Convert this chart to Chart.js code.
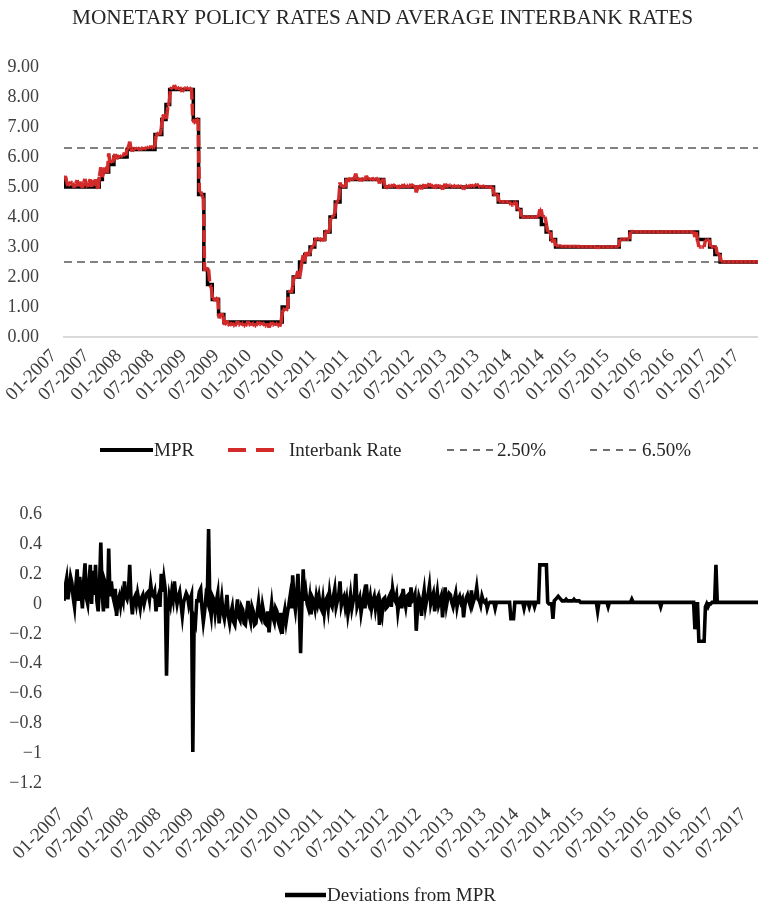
<!DOCTYPE html>
<html><head><meta charset="utf-8">
<script src="https://cdn.jsdelivr.net/npm/chart.js@4.4.0/dist/chart.umd.min.js"></script>
<style>
html,body{margin:0;padding:0;background:#fff;width:758px;height:905px;overflow:hidden;}
#c1{position:absolute;left:0;top:0;}
#c2{position:absolute;left:0;top:500px;}
#title{position:absolute;left:0;top:6px;width:765px;text-align:center;font-family:"Liberation Serif","Times New Roman",serif;font-size:21.3px;line-height:22px;color:#262626;white-space:nowrap;}
</style></head><body>
<canvas id="c1" width="758" height="500"></canvas>
<canvas id="c2" width="758" height="405"></canvas>
<div id="title">MONETARY POLICY RATES AND AVERAGE INTERBANK RATES</div>
<script>
// ---- data (time in months since Jan 2007) ----
const tickLabels = ['01-2007','07-2007','01-2008','07-2008','01-2009','07-2009','01-2010','07-2010',
  '01-2011','07-2011','01-2012','07-2012','01-2013','07-2013','01-2014','07-2014','01-2015','07-2015',
  '01-2016','07-2016','01-2017','07-2017'];
const monthMax = 132;
// the picture's date labels sit on their own evenly spaced slots (a little wider than 6 months)
const labelSlotMax = 21.35;

// Monetary policy rate: month of change and new level
const mprChangeMonths = [0,0.3,6.7,7.3,8.5,9.5,12.0,17.3,18.6,19.4,20.1,24.6,25.6,26.6,27.3,28.2,29.4,30.4,
  41.5,42.6,43.6,44.8,45.8,46.8,47.7,49.6,50.6,51.6,52.5,53.6,60.8,81.7,82.6,86.2,86.9,90.8,91.7,92.6,93.5,
  105.6,107.6,120.5,122.8,123.8,124.8];
const mprValues = [5.25,5.0,5.25,5.5,5.75,6.0,6.25,6.75,7.25,7.75,8.25,7.25,4.75,2.25,1.75,1.25,0.75,0.5,
  1.0,1.5,2.0,2.5,2.75,3.0,3.25,3.5,4.0,4.5,5.0,5.25,5.0,4.75,4.5,4.25,4.0,3.75,3.5,3.25,3.0,
  3.25,3.5,3.25,3.0,2.75,2.5];

// Interbank rate minus MPR, read at the start and middle of each half month
const deviationsHalfMonth = [   // month = k/2
  0.02,0.17,0.10,0.14,-0.02,0.23,0.18,-0.03,0.27,0.00,
  0.26,0.22,0.26,-0.05,0.41,-0.05,0.12,0.37,0.15,0.02,
  -0.08,0.05,0.06,0.15,0.03,0.26,-0.07,0.05,0.07,-0.03,
  0.06,0.04,0.08,0.13,0.05,-0.05,0.06,0.20,0.17,-0.48,
  0.05,0.08,0.15,0.00,0.08,-0.08,0.04,0.05,0.03,-0.99,
  -0.13,0.02,0.10,-0.12,0.05,0.50,-0.08,0.03,0.02,-0.13,
  0.04,-0.10,0.06,-0.13,-0.02,-0.14,0.03,-0.11,-0.04,-0.14,
  0.02,-0.12,-0.05,-0.13,0.01,-0.10,-0.06,-0.14,-0.19,0.00,
  -0.12,-0.05,-0.15,-0.20,-0.04,-0.06,0.05,0.19,-0.04,0.20,
  -0.33,0.23,0.08,-0.03,-0.07,0.02,0.05,0.05,-0.04,-0.06,
  0.04,0.07,-0.02,0.10,0.02,0.15,0.03,-0.02,-0.07,0.06,
  0.02,0.20,0.01,-0.06,0.05,0.13,0.00,-0.03,0.05,0.03,
  -0.14,-0.07,0.04,-0.02,0.06,0.10,0.02,-0.05,0.04,0.10,
  -0.02,0.06,0.11,0.03,-0.18,0.05,-0.08,0.09,0.03,0.12,
  0.04,-0.05,0.08,0.02,-0.09,0.11,0.04,0.06,-0.02,0.07,
  0.03,0.01,-0.09,0.04,0.02,0.09,0.03,0.11,0.02,0.05,
  0.01,-0.03,0.01,0.01,-0.03,0.01,0.01,0.01,0.01,0.01,
  -0.10,-0.10,0.01,0.01,0.01,-0.03,0.01,-0.02,0.01,-0.02,
  0.01,0.26,0.26,0.26,0.01,0.00,-0.10,0.03,0.05,0.03,
  0.02,0.03,0.02,0.02,0.03,0.02,0.02,0.01,0.01,0.01,
  0.01,0.01,0.01,-0.05,0.01,0.01,0.01,-0.02,0.01,0.01,
  0.01,0.01,0.01,0.01,0.01,0.01,0.03,0.01,0.01,0.01,
  0.01,0.01,0.01,0.01,0.01,0.01,0.01,-0.02,0.01,0.01,
  0.01,0.01,0.01,0.01,0.01,0.01,0.01,0.01,0.01,0.01,
  -0.17,0.00,-0.25,-0.25,-0.02,-0.02,0.00,0.01,0.26,0.01,
  0.01,0.01,0.01,0.01,0.01,0.01,0.01,0.01,0.01,0.01,
  0.01,0.01,0.01,0.01,0.01
];
const deviationsQuarterMonth = [   // month = k/2 + 0.25
  0.12,0.03,0.18,0.04,0.12,0.02,0.07,0.15,0.04,0.14,
  0.00,0.06,0.02,0.12,0.08,0.15,-0.03,0.05,0.06,0.10,
  0.02,-0.01,0.02,0.05,0.08,0.03,0.03,0.00,0.02,0.04,
  0.00,0.07,0.03,0.06,0.08,0.03,-0.02,0.08,0.10,-0.05,
  0.00,0.03,0.06,0.05,0.00,0.01,0.07,-0.01,0.06,-0.10,
  0.02,0.08,-0.03,-0.05,0.02,-0.02,0.05,-0.06,0.07,-0.03,
  -0.06,-0.03,-0.08,-0.06,-0.12,-0.05,-0.09,-0.02,-0.13,-0.06,
  -0.08,-0.02,-0.14,-0.06,-0.08,-0.01,-0.13,-0.05,-0.08,-0.09,
  -0.03,-0.12,-0.06,-0.09,-0.12,-0.01,-0.03,0.02,0.06,-0.02,
  0.00,0.02,0.00,0.04,0.04,-0.03,0.00,-0.02,0.03,0.02,
  -0.03,0.00,0.05,-0.02,0.06,-0.01,0.05,0.03,-0.01,-0.03,
  0.06,-0.02,0.04,0.00,-0.03,0.03,0.05,0.02,-0.03,0.05,
  -0.02,0.03,-0.03,0.04,-0.02,0.04,0.06,0.02,-0.03,0.03,
  0.05,-0.02,0.02,0.06,-0.03,0.02,0.03,-0.02,0.06,0.00,
  0.07,0.02,-0.01,0.05,0.02,-0.01,0.07,0.01,0.03,-0.02,
  0.05,0.03,-0.01,0.06,-0.01,0.00,0.05,0.03,-0.01,0.02,
  0.02,0.00,0.01,0.01,0.01,0.01,0.01,0.01,0.01,0.01,
  -0.10,0.01,0.01,0.01,0.01,0.01,0.01,0.01,0.01,0.01,
  0.01,0.26,0.26,0.26,0.00,0.00,0.02,0.04,0.04,0.02,
  0.02,0.02,0.02,0.02,0.02,0.02,0.01,0.01,0.01,0.01,
  0.01,0.01,0.01,0.01,0.01,0.01,0.01,0.01,0.01,0.01,
  0.01,0.01,0.01,0.01,0.01,0.01,0.01,0.01,0.01,0.01,
  0.01,0.01,0.01,0.01,0.01,0.01,0.01,0.01,0.01,0.01,
  0.01,0.01,0.01,0.01,0.01,0.01,0.01,0.01,0.01,0.01,
  0.00,-0.25,-0.25,-0.25,0.00,0.00,0.01,0.01,0.01,0.01,
  0.01,0.01,0.01,0.01,0.01,0.01,0.01,0.01,0.01,0.01,
  0.01,0.01,0.01,0.01
];
const corridorLow = 2.5;
const corridorHigh = 6.3;

// ---- tables built from the arrays ----
const devSamples = deviationsHalfMonth.map((d, k) => ({m: k / 2, d}))
  .concat(deviationsQuarterMonth.map((d, k) => ({m: k / 2 + 0.25, d})))
  .sort((a, b) => a.m - b.m);
function mprAt(m){ let v = mprValues[0]; for (let k = 0; k < mprChangeMonths.length; k++){ if (mprChangeMonths[k] <= m) v = mprValues[k]; } return v; }
const mprPoints = mprChangeMonths.map((m, k) => ({x: m, y: mprValues[k]})).concat([{x: monthMax, y: mprValues[mprValues.length - 1]}]);
const interbankPoints = devSamples.map(s => ({x: s.m, y: +(mprAt(s.m) + s.d).toFixed(2)}));
const devPoints = devSamples.map(s => ({x: s.m, y: s.d}));

const FONT = '"Liberation Serif","Times New Roman",serif';
Chart.defaults.font.family = FONT;
Chart.defaults.color = '#404040';

// legend drawn at fixed places, one sample line + dataset label per item
const placedLegend = {
  id: 'placedLegend',
  afterDraw(chart, args, opts) {
    const ctx = chart.ctx;
    ctx.save();
    ctx.font = opts.size + 'px ' + FONT;
    ctx.textBaseline = 'middle';
    ctx.fillStyle = opts.textColor;
    opts.items.forEach(it => {
      const ds = chart.data.datasets[it.dataset];
      ctx.beginPath();
      ctx.setLineDash(it.dash);
      ctx.lineWidth = it.width;
      ctx.strokeStyle = it.color || ds.borderColor;
      ctx.moveTo(it.x0, opts.y);
      ctx.lineTo(it.x1, opts.y);
      ctx.stroke();
      ctx.setLineDash([]);
      ctx.fillText(ds.label, it.tx, opts.y + 1);
    });
    ctx.restore();
  }
};

function xScales(height, pad, shift, showBorder){
  return {
    x: {type: 'linear', min: 0, max: monthMax, display: false},
    xLabels: {
      type: 'linear', axis: 'x', position: 'bottom', min: 0, max: labelSlotMax,
      afterBuildTicks: s => { s.ticks = tickLabels.map((_, i) => ({value: i})); },
      afterFit: s => { s.height = height; s.paddingLeft = 0; s.paddingRight = 0; },
      ticks: {autoSkip: false, minRotation: 45, maxRotation: 45, padding: pad, labelOffset: shift, font: {size: 19},
        callback: (v, i) => tickLabels[i]},
      grid: {display: false, drawTicks: false},
      border: {display: showBorder, color: '#d9d9d9', width: 2}
    }
  };
}

new Chart(document.getElementById('c1'), {
  type: 'line',
  data: {datasets: [
    {label: 'MPR', data: mprPoints, borderColor: '#000', borderWidth: 3.5, stepped: true, pointRadius: 0, order: 1},
    {label: 'Interbank Rate', data: interbankPoints, borderColor: '#d32a2a', borderWidth: 3.5, borderDash: [12, 4],
      pointRadius: 0, order: 0, segment: {borderDashOffset: c => (c.p0DataIndex % 2) * 0.01}},
    {label: '2.50%', data: [{x: 0, y: corridorLow}, {x: monthMax, y: corridorLow}], borderColor: '#595959',
      borderWidth: 1.5, borderDash: [8, 5], pointRadius: 0, order: 2},
    {label: '6.50%', data: [{x: 0, y: corridorHigh}, {x: monthMax, y: corridorHigh}], borderColor: '#595959',
      borderWidth: 1.5, borderDash: [8, 5], pointRadius: 0, order: 2}
  ]},
  plugins: [placedLegend],
  options: {
    responsive: false, animation: false, events: [],
    layout: {padding: {left: 0, top: 67, right: 0, bottom: 63}},
    plugins: {
      tooltip: {enabled: false},
      legend: {display: false},
      placedLegend: {y: 450, size: 19, textColor: '#262626', items: [
        {dataset: 0, x0: 100, x1: 153, tx: 154, width: 4, dash: []},
        {dataset: 1, x0: 228, x1: 274, tx: 289, width: 4, dash: [18, 10]},
        {dataset: 2, x0: 447, x1: 494, tx: 497, width: 1.5, dash: [7, 6], color: '#404040'},
        {dataset: 3, x0: 590, x1: 637, tx: 642, width: 1.5, dash: [7, 6], color: '#404040'}
      ]}
    },
    scales: Object.assign(xScales(100, 8, -10, true), {
      y: {min: 0, max: 9, afterFit: s => { s.width = 64; s.paddingTop = 10; s.paddingBottom = 10; },
        ticks: {stepSize: 1, padding: 25, font: {size: 18}, callback: v => Number(v).toFixed(2)},
        grid: {display: false, drawTicks: false}, border: {display: false}}
    })
  }
});

function fmtDev(v){ const r = Math.round(v * 10) / 10; if (r === 0) return '0'; return r < 0 ? '\u2212' + String(-r) : String(r); }

new Chart(document.getElementById('c2'), {
  type: 'line',
  data: {datasets: [
    {label: 'Deviations from MPR', data: devPoints, borderColor: '#000', borderWidth: 3.6, pointRadius: 0}
  ]},
  plugins: [placedLegend],
  options: {
    responsive: false, animation: false, events: [],
    layout: {padding: {left: 0, top: 14, right: 0, bottom: 36.5}},
    plugins: {
      tooltip: {enabled: false},
      legend: {display: false},
      placedLegend: {y: 395, size: 19, textColor: '#262626', items: [
        {dataset: 0, x0: 285, x1: 326, tx: 327, width: 4.5, dash: []}
      ]}
    },
    scales: Object.assign(xScales(85, 20, -3, false), {
      y: {min: -1.2, max: 0.6, afterFit: s => { s.width = 64; s.paddingTop = 10; s.paddingBottom = 10; },
        ticks: {stepSize: 0.2, padding: 22, font: {size: 18}, callback: v => fmtDev(v)},
        grid: {display: false, drawTicks: false}, border: {display: false}}
    })
  }
});
</script>
</body></html>
